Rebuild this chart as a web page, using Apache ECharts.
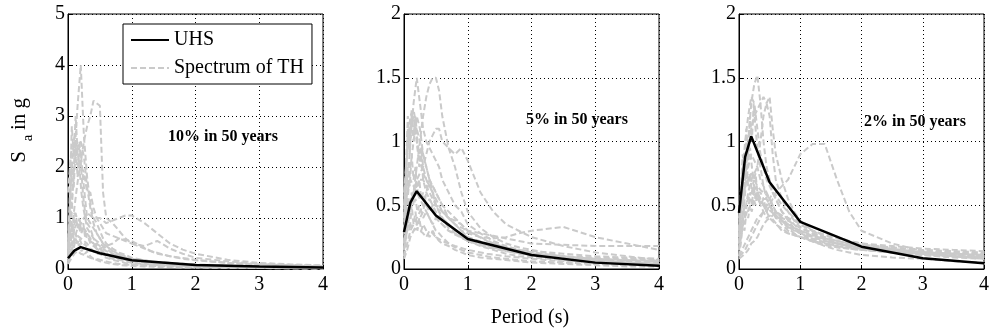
<!DOCTYPE html>
<html>
<head>
<meta charset="utf-8">
<script src="https://cdn.jsdelivr.net/npm/echarts@6/dist/echarts.min.js"></script>
<style>
  html, body { margin: 0; padding: 0; background: #fff; }
  #chart { width: 992px; height: 331px; }
</style>
</head>
<body>
<div id="chart"></div>
<script>
// period grids (s) for the time-history spectra
var T = [0, 0.05, 0.1, 0.15, 0.2, 0.25, 0.3, 0.35, 0.4, 0.45, 0.5, 0.55, 0.6, 0.7, 0.8, 0.9, 1.0, 1.2, 1.4, 1.6, 1.8, 2.0, 2.5, 3.0, 3.5, 4.0];
var Tf = [0, 0.03, 0.06, 0.09, 0.12, 0.15, 0.18, 0.21, 0.24, 0.27, 0.3, 0.35, 0.4, 0.45, 0.5, 0.6, 0.7, 0.8, 1.0, 1.3, 1.6, 2.0, 2.5, 3.0, 3.5, 4.0];
// UHS periods
var uhsT = [0, 0.1, 0.2, 0.5, 1, 2, 3, 4];
var uhs10 = [0.21, 0.36, 0.43, 0.31, 0.17, 0.08, 0.05, 0.03];
var uhs5 = [0.29, 0.52, 0.61, 0.42, 0.235, 0.11, 0.05, 0.025];
var uhs2 = [0.44, 0.88, 1.04, 0.68, 0.37, 0.175, 0.085, 0.045];

// spectra of time histories, 10% in 50 years (on T)
var th10 = [
  [0.3, 0.9, 2.2, 3.2, 4.0, 2.6, 1.8, 1.3, 1.0, 0.9, 0.75, 0.6, 0.5, 0.4, 0.32, 0.28, 0.22, 0.17, 0.13, 0.1, 0.09, 0.08, 0.06, 0.05, 0.04, 0.03],
  [0.25, 0.5, 1.2, 1.7, 2.1, 2.5, 2.8, 3.0, 3.3, 3.25, 3.2, 1.5, 1.0, 0.9, 0.75, 0.6, 0.5, 0.4, 0.3, 0.25, 0.2, 0.17, 0.12, 0.09, 0.07, 0.05],
  [0.15, 0.3, 0.6, 0.8, 0.9, 1.0, 1.1, 1.05, 1.0, 1.0, 1.0, 0.95, 0.9, 0.95, 1.0, 1.05, 1.05, 0.9, 0.7, 0.5, 0.38, 0.3, 0.18, 0.12, 0.09, 0.07],
  [1.5, 2.3, 2.5, 2.4, 2.5, 2.2, 1.6, 1.2, 0.9, 0.7, 0.6, 0.5, 0.45, 0.35, 0.3, 0.25, 0.2, 0.15, 0.12, 0.1, 0.08, 0.07, 0.05, 0.04, 0.03, 0.02],
  [0.4, 1.8, 2.6, 2.2, 2.0, 1.9, 1.5, 1.5, 1.2, 1.0, 0.9, 0.8, 0.7, 0.65, 0.6, 0.55, 0.5, 0.45, 0.55, 0.4, 0.3, 0.22, 0.15, 0.1, 0.08, 0.06],
  [0.2, 0.6, 1.1, 1.0, 0.9, 0.8, 0.7, 0.6, 0.5, 0.45, 0.4, 0.35, 0.3, 0.25, 0.2, 0.18, 0.15, 0.12, 0.1, 0.08, 0.07, 0.06, 0.04, 0.03, 0.03, 0.02],
  [0.15, 0.35, 0.55, 0.65, 0.6, 0.55, 0.5, 0.4, 0.35, 0.3, 0.3, 0.25, 0.22, 0.18, 0.15, 0.12, 0.1, 0.08, 0.07, 0.06, 0.05, 0.04, 0.03, 0.02, 0.02, 0.01],
  [0.1, 0.2, 0.3, 0.35, 0.3, 0.28, 0.25, 0.22, 0.2, 0.18, 0.15, 0.14, 0.12, 0.1, 0.08, 0.07, 0.06, 0.05, 0.04, 0.04, 0.03, 0.03, 0.02, 0.02, 0.01, 0.01],
  [0.1, 0.4, 0.8, 0.9, 0.7, 0.8, 0.6, 0.55, 0.5, 0.4, 0.35, 0.3, 0.25, 0.2, 0.18, 0.15, 0.12, 0.1, 0.08, 0.07, 0.06, 0.05, 0.04, 0.03, 0.02, 0.02],
  [0.5, 1.2, 2.0, 2.4, 2.3, 1.6, 1.0, 0.9, 0.8, 0.7, 0.6, 0.5, 0.45, 0.35, 0.28, 0.22, 0.18, 0.14, 0.11, 0.09, 0.08, 0.07, 0.05, 0.04, 0.03, 0.02]
];
// 10% in 50 years, jagged records (on Tf)
var th10f = [
  [0.3, 1.2, 2.1, 1.6, 2.4, 1.8, 2.5, 1.9, 1.4, 1.1, 0.9, 0.8, 0.6, 0.55, 0.5, 0.4, 0.3, 0.25, 0.2, 0.15, 0.1, 0.08, 0.06, 0.05, 0.04, 0.03],
  [0.2, 0.5, 0.9, 0.7, 1.1, 0.8, 1.0, 0.7, 0.9, 0.6, 0.7, 0.5, 0.45, 0.4, 0.35, 0.3, 0.25, 0.2, 0.17, 0.12, 0.1, 0.08, 0.06, 0.05, 0.04, 0.03],
  [0.1, 0.3, 0.5, 0.4, 0.6, 0.45, 0.5, 0.35, 0.4, 0.3, 0.35, 0.25, 0.2, 0.2, 0.18, 0.15, 0.12, 0.1, 0.08, 0.06, 0.05, 0.04, 0.03, 0.02, 0.02, 0.01],
  [0.4, 1.5, 2.8, 2.2, 3.0, 2.3, 2.0, 1.5, 1.2, 1.0, 0.8, 0.7, 0.6, 0.5, 0.45, 0.35, 0.3, 0.25, 0.2, 0.15, 0.12, 0.09, 0.07, 0.05, 0.04, 0.03],
  [0.2, 0.6, 0.8, 0.6, 0.7, 0.5, 0.6, 0.5, 0.45, 0.5, 0.4, 0.35, 0.45, 0.5, 0.4, 0.45, 0.5, 0.6, 0.55, 0.35, 0.25, 0.18, 0.12, 0.09, 0.07, 0.05]
];
// 5% in 50 years (on T)
var th5 = [
  [0.2, 0.35, 0.5, 0.6, 0.8, 1.0, 1.2, 1.35, 1.45, 1.5, 1.5, 1.4, 1.2, 0.95, 0.8, 0.6, 0.45, 0.32, 0.25, 0.2, 0.17, 0.15, 0.1, 0.07, 0.05, 0.04],
  [0.3, 0.6, 1.0, 1.3, 1.5, 1.3, 1.1, 1.0, 0.95, 0.9, 0.85, 0.8, 0.7, 0.6, 0.5, 0.45, 0.35, 0.28, 0.22, 0.18, 0.15, 0.13, 0.09, 0.06, 0.05, 0.04],
  [0.15, 0.3, 0.5, 0.6, 0.7, 0.75, 0.8, 0.9, 1.0, 1.05, 1.1, 1.1, 1.0, 0.95, 0.9, 0.95, 0.85, 0.6, 0.45, 0.35, 0.3, 0.25, 0.18, 0.13, 0.1, 0.07],
  [0.1, 0.2, 0.3, 0.35, 0.4, 0.45, 0.5, 0.5, 0.55, 0.5, 0.5, 0.48, 0.45, 0.4, 0.35, 0.3, 0.28, 0.25, 0.24, 0.25, 0.28, 0.3, 0.33, 0.25, 0.2, 0.15],
  [0.3, 0.5, 0.8, 1.0, 1.2, 1.1, 0.9, 0.8, 0.7, 0.65, 0.6, 0.55, 0.5, 0.45, 0.4, 0.35, 0.3, 0.28, 0.26, 0.24, 0.22, 0.2, 0.19, 0.18, 0.18, 0.18],
  [0.5, 0.9, 1.2, 1.25, 1.1, 1.0, 0.9, 0.8, 0.7, 0.6, 0.5, 0.45, 0.4, 0.32, 0.28, 0.25, 0.22, 0.18, 0.15, 0.12, 0.1, 0.09, 0.07, 0.05, 0.04, 0.03],
  [0.08, 0.15, 0.25, 0.3, 0.35, 0.4, 0.45, 0.6, 0.7, 0.65, 0.6, 0.55, 0.5, 0.4, 0.35, 0.3, 0.25, 0.2, 0.17, 0.14, 0.12, 0.1, 0.08, 0.06, 0.05, 0.04],
  [0.4, 0.6, 0.7, 0.65, 0.6, 0.55, 0.5, 0.45, 0.4, 0.35, 0.3, 0.28, 0.25, 0.2, 0.17, 0.15, 0.13, 0.11, 0.09, 0.08, 0.07, 0.06, 0.05, 0.04, 0.03, 0.03],
  [0.3, 0.45, 0.55, 0.6, 0.65, 0.7, 0.7, 0.65, 0.6, 0.55, 0.5, 0.45, 0.4, 0.35, 0.3, 0.28, 0.25, 0.2, 0.18, 0.16, 0.15, 0.14, 0.12, 0.1, 0.09, 0.08],
  [0.2, 0.3, 0.35, 0.3, 0.32, 0.3, 0.28, 0.25, 0.3, 0.28, 0.25, 0.22, 0.2, 0.18, 0.15, 0.13, 0.11, 0.09, 0.08, 0.07, 0.06, 0.05, 0.04, 0.03, 0.02, 0.02],
  [0.6, 0.9, 1.1, 1.2, 1.0, 0.85, 0.75, 0.7, 0.65, 0.6, 0.55, 0.5, 0.45, 0.4, 0.38, 0.35, 0.3, 0.25, 0.2, 0.17, 0.14, 0.12, 0.1, 0.09, 0.08, 0.07]
];
// 5% in 50 years, jagged records (on Tf)
var th5f = [
  [0.3, 0.7, 1.1, 0.9, 1.2, 1.0, 1.15, 0.95, 0.8, 0.9, 0.7, 0.6, 0.55, 0.5, 0.45, 0.4, 0.35, 0.3, 0.25, 0.2, 0.15, 0.12, 0.09, 0.07, 0.06, 0.05],
  [0.2, 0.5, 0.8, 0.65, 0.9, 0.7, 0.8, 0.6, 0.7, 0.55, 0.6, 0.5, 0.45, 0.5, 0.4, 0.35, 0.3, 0.28, 0.22, 0.17, 0.14, 0.11, 0.08, 0.06, 0.05, 0.04],
  [0.1, 0.25, 0.4, 0.3, 0.5, 0.35, 0.45, 0.3, 0.4, 0.3, 0.35, 0.3, 0.25, 0.3, 0.25, 0.22, 0.2, 0.18, 0.15, 0.12, 0.1, 0.08, 0.06, 0.05, 0.04, 0.03],
  [0.4, 0.8, 1.2, 1.0, 1.25, 1.05, 1.2, 1.0, 0.9, 0.95, 0.8, 0.7, 0.65, 0.6, 0.5, 0.45, 0.4, 0.35, 0.3, 0.22, 0.17, 0.13, 0.1, 0.08, 0.07, 0.06],
  [0.15, 0.35, 0.55, 0.45, 0.6, 0.5, 0.55, 0.45, 0.5, 0.45, 0.4, 0.45, 0.4, 0.35, 0.4, 0.35, 0.3, 0.27, 0.22, 0.18, 0.15, 0.12, 0.1, 0.08, 0.07, 0.06]
];
// 2% in 50 years (on T)
var th2 = [
  [0.2, 0.4, 0.7, 1.0, 1.3, 1.45, 1.52, 1.3, 1.0, 0.8, 0.7, 0.6, 0.55, 0.45, 0.38, 0.32, 0.28, 0.22, 0.18, 0.15, 0.13, 0.11, 0.09, 0.08, 0.06, 0.05],
  [0.15, 0.3, 0.6, 0.9, 1.1, 1.2, 1.25, 1.3, 1.35, 1.3, 1.35, 1.1, 0.9, 0.7, 0.55, 0.45, 0.38, 0.3, 0.25, 0.2, 0.18, 0.16, 0.13, 0.11, 0.09, 0.08],
  [0.1, 0.15, 0.2, 0.25, 0.3, 0.35, 0.4, 0.42, 0.45, 0.5, 0.5, 0.55, 0.6, 0.65, 0.7, 0.8, 0.9, 0.98, 0.98, 0.7, 0.45, 0.3, 0.2, 0.14, 0.1, 0.08],
  [0.3, 0.7, 1.0, 1.2, 1.35, 1.3, 1.1, 0.9, 0.8, 0.7, 0.65, 0.6, 0.55, 0.45, 0.4, 0.35, 0.3, 0.25, 0.22, 0.2, 0.18, 0.16, 0.14, 0.12, 0.1, 0.09],
  [0.5, 0.6, 0.7, 0.75, 0.7, 0.65, 0.6, 0.6, 0.55, 0.55, 0.5, 0.48, 0.45, 0.4, 0.38, 0.35, 0.32, 0.28, 0.25, 0.22, 0.2, 0.19, 0.17, 0.15, 0.14, 0.13],
  [0.1, 0.12, 0.15, 0.2, 0.25, 0.3, 0.35, 0.4, 0.45, 0.5, 0.55, 0.6, 0.58, 0.5, 0.45, 0.4, 0.35, 0.3, 0.26, 0.24, 0.22, 0.2, 0.18, 0.16, 0.15, 0.14],
  [0.25, 0.4, 0.5, 0.55, 0.6, 0.58, 0.55, 0.52, 0.5, 0.48, 0.46, 0.44, 0.42, 0.38, 0.34, 0.3, 0.28, 0.25, 0.22, 0.2, 0.18, 0.17, 0.15, 0.13, 0.12, 0.11],
  [0.3, 0.5, 0.65, 0.8, 0.9, 0.85, 0.8, 0.7, 0.65, 0.6, 0.55, 0.5, 0.45, 0.4, 0.35, 0.32, 0.3, 0.26, 0.24, 0.22, 0.2, 0.18, 0.15, 0.12, 0.1, 0.09],
  [0.08, 0.1, 0.12, 0.15, 0.2, 0.22, 0.25, 0.3, 0.35, 0.38, 0.4, 0.42, 0.45, 0.42, 0.4, 0.38, 0.35, 0.3, 0.27, 0.25, 0.22, 0.2, 0.16, 0.13, 0.12, 0.1],
  [0.4, 0.55, 0.65, 0.7, 0.75, 0.7, 0.65, 0.62, 0.6, 0.58, 0.55, 0.5, 0.45, 0.38, 0.32, 0.28, 0.25, 0.22, 0.2, 0.18, 0.16, 0.15, 0.13, 0.12, 0.11, 0.1],
  [0.2, 0.3, 0.45, 0.6, 0.7, 0.75, 0.8, 1.0, 1.2, 1.3, 1.2, 0.9, 0.7, 0.55, 0.45, 0.38, 0.33, 0.28, 0.24, 0.2, 0.18, 0.17, 0.15, 0.14, 0.13, 0.12]
];
// 2% in 50 years, jagged records (on Tf)
var th2f = [
  [0.2, 0.45, 0.7, 0.6, 0.8, 0.65, 0.75, 0.6, 0.7, 0.55, 0.6, 0.5, 0.55, 0.45, 0.5, 0.4, 0.38, 0.33, 0.28, 0.22, 0.18, 0.16, 0.14, 0.12, 0.1, 0.09],
  [0.1, 0.2, 0.35, 0.3, 0.45, 0.4, 0.5, 0.45, 0.55, 0.5, 0.6, 0.55, 0.5, 0.45, 0.5, 0.42, 0.38, 0.35, 0.3, 0.25, 0.2, 0.18, 0.15, 0.13, 0.12, 0.11],
  [0.3, 0.5, 0.8, 0.7, 1.0, 0.85, 0.95, 0.8, 0.7, 0.75, 0.6, 0.55, 0.5, 0.45, 0.4, 0.35, 0.32, 0.28, 0.25, 0.2, 0.17, 0.15, 0.13, 0.11, 0.1, 0.09],
  [0.15, 0.3, 0.4, 0.35, 0.5, 0.45, 0.6, 0.5, 0.65, 0.55, 0.6, 0.5, 0.45, 0.4, 0.42, 0.36, 0.3, 0.28, 0.25, 0.22, 0.2, 0.18, 0.16, 0.14, 0.13, 0.12],
  [0.25, 0.6, 0.9, 0.75, 1.1, 0.9, 1.2, 1.0, 1.3, 1.1, 0.95, 0.8, 0.65, 0.55, 0.5, 0.42, 0.35, 0.3, 0.25, 0.2, 0.17, 0.15, 0.13, 0.12, 0.1, 0.09]
];

var yMax = [5, 2, 2];
var yStep = [1, 0.5, 0.5];
var labels = ['10% in 50 years', '5% in 50 years', '2% in 50 years'];

var serif = "'Liberation Serif', 'Times New Roman', serif";
var gridLeft = [68, 404, 739];

function pairs(xs, ys) {
  return xs.map(function (x, i) { return [x, ys[i]]; });
}

var grids = [], xAxes = [], yAxes = [], series = [];
var thSets = [th10, th5, th2];
var thFineSets = [th10f, th5f, th2f];
var uhsSets = [uhs10, uhs5, uhs2];

function thSeries(g, xs, vals) {
  return {
    name: 'Spectrum of TH', type: 'line', xAxisIndex: g, yAxisIndex: g,
    data: pairs(xs, vals), symbol: 'none', silent: true,
    lineStyle: { color: '#cacaca', width: 2, type: [6, 3] },
    z: 2
  };
}

for (var g = 0; g < 3; g++) {
  grids.push({
    left: gridLeft[g], top: 14, width: 255, height: 255,
    show: true, borderColor: '#000', borderWidth: 1, backgroundColor: '#fff'
  });
  xAxes.push({
    type: 'value', gridIndex: g, min: 0, max: 4, interval: 1,
    axisLine: { show: true, onZero: false, lineStyle: { color: '#000', width: 1 } },
    axisTick: { show: true, inside: true, length: 4, lineStyle: { color: '#000' } },
    axisLabel: { color: '#000', fontFamily: serif, fontSize: 20, margin: 6 },
    splitLine: { show: true, lineStyle: { color: '#000', type: [1, 3], width: 1 } }
  });
  yAxes.push({
    type: 'value', gridIndex: g, min: 0, max: yMax[g], interval: yStep[g],
    axisLine: { show: true, lineStyle: { color: '#000', width: 1 } },
    axisTick: { show: true, inside: true, length: 4, lineStyle: { color: '#000' } },
    axisLabel: { color: '#000', fontFamily: serif, fontSize: 20, margin: 3 },
    splitLine: { show: true, lineStyle: { color: '#000', type: [1, 3], width: 1 } }
  });
  thSets[g].forEach(function (vals) { series.push(thSeries(g, T, vals)); });
  thFineSets[g].forEach(function (vals) { series.push(thSeries(g, Tf, vals)); });
  series.push({
    name: 'UHS', type: 'line', xAxisIndex: g, yAxisIndex: g,
    data: pairs(uhsT, uhsSets[g]), symbol: 'none', silent: true,
    lineStyle: { color: '#000', width: 2.5 },
    z: 3
  });
}

var annoPos = [[223, 137], [577, 120], [915, 122]];
var graphics = annoPos.map(function (p, i) {
  return {
    type: 'text', x: p[0], y: p[1], z: 10,
    style: { text: labels[i], fill: '#000', font: 'bold 16px ' + serif, align: 'center', verticalAlign: 'middle' }
  };
});
// y axis name: S_a in g
graphics.push({ type: 'text', x: 19, y: 157, rotation: Math.PI / 2, style: { text: 'S', fill: '#000', font: '21px ' + serif, align: 'center', verticalAlign: 'middle' } });
graphics.push({ type: 'text', x: 28, y: 138, rotation: Math.PI / 2, style: { text: 'a', fill: '#000', font: '15px ' + serif, align: 'center', verticalAlign: 'middle' } });
graphics.push({ type: 'text', x: 19, y: 114, rotation: Math.PI / 2, style: { text: 'in g', fill: '#000', font: '21px ' + serif, align: 'center', verticalAlign: 'middle' } });
// x axis name
graphics.push({ type: 'text', x: 530, y: 318, style: { text: 'Period (s)', fill: '#000', font: '20px ' + serif, align: 'center', verticalAlign: 'middle' } });

var chart = echarts.init(document.getElementById('chart'), null, { renderer: 'canvas' });
chart.setOption({
  animation: false,
  backgroundColor: '#fff',
  grid: grids,
  xAxis: xAxes,
  yAxis: yAxes,
  legend: {
    data: ['UHS', 'Spectrum of TH'],
    orient: 'vertical', left: 123, top: 24,
    itemWidth: 38, itemHeight: 14, itemGap: 8,
    padding: [6, 8, 6, 7],
    borderColor: '#000', borderWidth: 1, backgroundColor: '#fff',
    itemStyle: { opacity: 0 },
    textStyle: { color: '#000', fontFamily: serif, fontSize: 20 },
    selectedMode: false
  },
  graphic: graphics,
  series: series
});
</script>
</body>
</html>
